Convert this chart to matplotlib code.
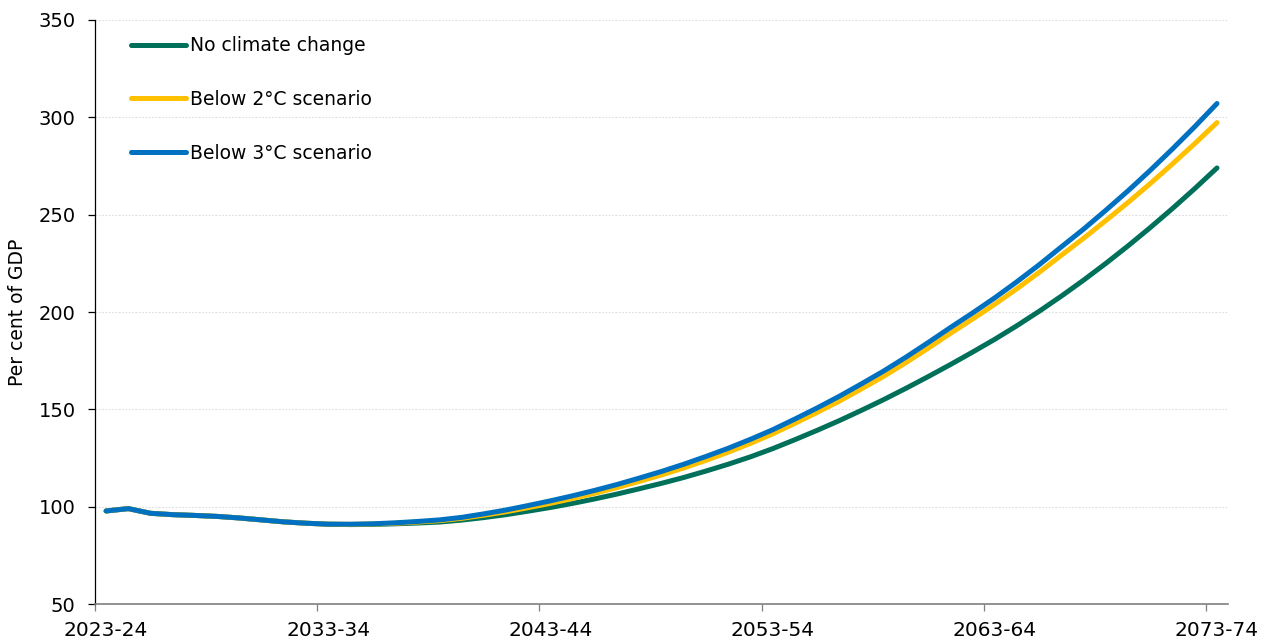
import matplotlib
matplotlib.use("Agg")
import matplotlib.pyplot as plt

plt.rcParams['font.family'] = ['DejaVu Sans']

# fiscal years 2023-24 .. 2073-74
years = ["%d-%02d" % (y, (y + 1) % 100) for y in range(2023, 2074)]
tick_years = ["2023-24", "2033-34", "2043-44", "2053-54", "2063-64", "2073-74"]

# debt, per cent of GDP
no_climate = [97.8, 99.0, 96.6, 95.9, 95.5, 95.0, 94.2, 93.2, 92.2, 91.5,
              91.0, 90.8, 90.9, 91.2, 91.6, 92.1, 93.1, 94.4, 95.9, 97.7,
              99.6, 101.7, 104.0, 106.5, 109.2, 112.0, 115.0, 118.3, 121.8, 125.6,
              129.8, 134.4, 139.2, 144.2, 149.5, 155.0, 160.8, 166.8, 173.0, 179.4,
              186.0, 193.0, 200.4, 208.2, 216.4, 225.0, 234.0, 243.4, 253.2, 263.4,
              274.0]
below_2c = [97.8, 99.0, 96.6, 95.9, 95.5, 95.0, 94.2, 93.2, 92.2, 91.5,
            91.0, 90.9, 91.1, 91.5, 92.1, 92.8, 94.0, 95.6, 97.4, 99.5,
            101.7, 104.2, 106.9, 109.8, 113.0, 116.3, 119.9, 123.8, 128.0, 132.5,
            137.4, 142.8, 148.4, 154.2, 160.5, 167.0, 174.0, 181.4, 189.0, 196.4,
            204.0, 212.0, 220.4, 229.2, 237.9, 247.0, 256.3, 266.0, 276.1, 286.5,
            297.3]
below_3c = [97.8, 99.0, 96.6, 95.9, 95.5, 95.0, 94.2, 93.2, 92.2, 91.5,
            91.0, 91.0, 91.2, 91.7, 92.4, 93.2, 94.5, 96.3, 98.3, 100.6,
            103.0, 105.6, 108.4, 111.4, 114.7, 118.1, 121.8, 125.8, 130.0, 134.6,
            139.5, 145.0, 150.7, 156.7, 163.1, 169.7, 176.8, 184.3, 192.0, 199.5,
            207.3, 215.6, 224.3, 233.5, 242.6, 252.3, 262.3, 272.8, 283.8, 295.2,
            307.1]

green = "#00705A"
yellow = "#FFC000"
blue = "#0070C0"

fig = plt.figure(figsize=(12.7, 6.41), dpi=100)
ax = fig.add_axes([0.0748, 0.0577, 0.8922, 0.9111])

# category axis: points sit in the middle of each year slot
x = [i + 0.5 for i in range(len(years))]
ax.plot(x, no_climate, color=green, lw=3.6, solid_capstyle='round', label="No climate change", zorder=3)
ax.plot(x, below_2c, color=yellow, lw=3.6, solid_capstyle='round', label="Below 2°C scenario", zorder=4)
ax.plot(x, below_3c, color=blue, lw=3.6, solid_capstyle='round', label="Below 3°C scenario", zorder=5)

ax.set_xlim(0, len(years))
ax.set_ylim(50, 350)
ax.set_yticks(range(50, 351, 50))

# tick marks between categories, labels on the category centres
tick_pos = [years.index(t) for t in tick_years]
ax.set_xticks(tick_pos)
ax.set_xticklabels([])
ax.set_xticks([p + 0.5 for p in tick_pos], minor=True)
ax.set_xticklabels(tick_years, minor=True)

ax.yaxis.grid(True, color="#DDDDDD", linestyle=(0, (1.5, 1.5)), lw=0.8)
ax.set_axisbelow(True)

for s in ["top", "right"]:
    ax.spines[s].set_visible(False)
ax.spines["left"].set_color("#000000")
ax.spines["left"].set_linewidth(0.9)
ax.spines["bottom"].set_color("#7F7F7F")
ax.spines["bottom"].set_linewidth(1.2)

ax.tick_params(axis='y', length=5, width=0.9, color="#000000", labelsize=14, pad=9)
ax.tick_params(axis='x', which='major', length=5, width=0.9, color="#7F7F7F")
ax.tick_params(axis='x', which='minor', length=0, labelsize=14.5, pad=12)

ax.set_ylabel("Per cent of GDP", fontsize=13.5, labelpad=8)

ax.legend(loc="upper left", frameon=False, fontsize=13.5, handlelength=2.9,
          handletextpad=0.25, labelspacing=1.85, borderpad=0, borderaxespad=0,
          bbox_to_anchor=(0.032, 0.972))

fig.savefig("out.png", dpi=100)
